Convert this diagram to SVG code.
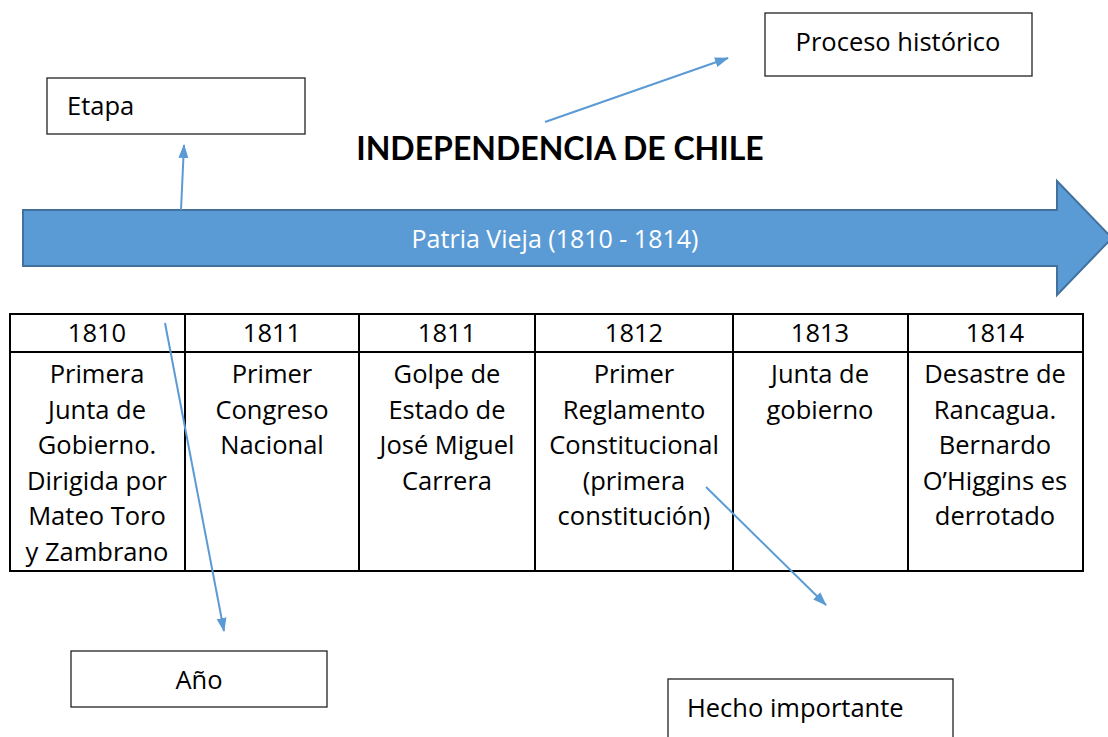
<svg xmlns="http://www.w3.org/2000/svg" width="1108" height="737" viewBox="0 0 1108 737">
<style>
text{font-family:"Open Sans",Lato,"Liberation Sans",sans-serif;fill:#000}
.box{fill:#fff;stroke:#222;stroke-width:1.3}
.lbl{font-size:25.5px}
.cell{font-size:25.5px;text-anchor:middle}
.grid{stroke:#000;stroke-width:2;fill:none}
.conn{stroke:#5B9BD5;stroke-width:2;fill:none;marker-end:url(#ah)}
</style>
<defs>
<marker id="ah" markerWidth="14" markerHeight="12" refX="13" refY="6" orient="auto" markerUnits="userSpaceOnUse" viewBox="0 0 14 12">
<path d="M0,1 L14,6 L0,11 z" fill="#5B9BD5"/>
</marker>
</defs>
<rect width="1108" height="737" fill="#fff"/>
<g id="etapa"><rect class="box" x="47" y="78" width="258" height="56"/><text class="lbl" x="67" y="115">Etapa</text></g>
<g id="proceso"><rect class="box" x="765" y="13" width="267" height="63"/><text class="lbl" x="898" y="51" text-anchor="middle">Proceso histórico</text></g>
<g id="title"><text x="560" y="160" font-size="32" font-weight="bold" text-anchor="middle" style="font-family:Lato,'Open Sans',sans-serif">INDEPENDENCIA DE CHILE</text></g>
<g id="patria">
<path d="M23,210 L1057,210 L1057,181 L1112,238 L1057,295 L1057,266 L23,266 z" fill="#5B9BD5" stroke="#41719C" stroke-width="2"/>
<text x="555" y="248" font-size="25" text-anchor="middle" style="fill:#fff">Patria Vieja (1810 - 1814)</text>
</g>
<g id="tabla">
<rect class="grid" x="10" y="314" width="1073" height="257"/>
<line class="grid" x1="10" y1="352" x2="1083" y2="352"/>
<line class="grid" x1="185" y1="314" x2="185" y2="571"/>
<line class="grid" x1="359" y1="314" x2="359" y2="571"/>
<line class="grid" x1="535" y1="314" x2="535" y2="571"/>
<line class="grid" x1="733" y1="314" x2="733" y2="571"/>
<line class="grid" x1="908" y1="314" x2="908" y2="571"/>
<text class="cell" x="97" y="342">1810</text>
<text class="cell" x="272" y="342">1811</text>
<text class="cell" x="447" y="342">1811</text>
<text class="cell" x="634" y="342">1812</text>
<text class="cell" x="820" y="342">1813</text>
<text class="cell" x="995" y="342">1814</text>
<text class="cell" x="97" y="383">Primera<tspan x="97" dy="35.5">Junta de</tspan><tspan x="97" dy="35.5">Gobierno.</tspan><tspan x="97" dy="35.5">Dirigida por</tspan><tspan x="97" dy="35.5">Mateo Toro</tspan><tspan x="97" dy="35.5">y Zambrano</tspan></text>
<text class="cell" x="272" y="383">Primer<tspan x="272" dy="35.5">Congreso</tspan><tspan x="272" dy="35.5">Nacional</tspan></text>
<text class="cell" x="447" y="383">Golpe de<tspan x="447" dy="35.5">Estado de</tspan><tspan x="447" dy="35.5">José Miguel</tspan><tspan x="447" dy="35.5">Carrera</tspan></text>
<text class="cell" x="634" y="383">Primer<tspan x="634" dy="35.5">Reglamento</tspan><tspan x="634" dy="35.5">Constitucional</tspan><tspan x="634" dy="35.5">(primera</tspan><tspan x="634" dy="35.5">constitución)</tspan></text>
<text class="cell" x="820" y="383">Junta de<tspan x="820" dy="35.5">gobierno</tspan></text>
<text class="cell" x="995" y="383">Desastre de<tspan x="995" dy="35.5">Rancagua.</tspan><tspan x="995" dy="35.5">Bernardo</tspan><tspan x="995" dy="35.5">O’Higgins es</tspan><tspan x="995" dy="35.5">derrotado</tspan></text>
</g>
<g id="anio"><rect class="box" x="71" y="651" width="256" height="56"/><text class="lbl" x="199" y="689" text-anchor="middle">Año</text></g>
<g id="hecho"><rect class="box" x="668" y="679" width="285" height="70"/><text class="lbl" x="687" y="717">Hecho importante</text></g>
<g id="connectors">
<line class="conn" x1="181" y1="210" x2="184" y2="145"/>
<line class="conn" x1="545" y1="122" x2="728" y2="58"/>
<line class="conn" x1="165" y1="323" x2="224" y2="631"/>
<line class="conn" x1="706" y1="487" x2="826" y2="605"/>
</g>
</svg>
